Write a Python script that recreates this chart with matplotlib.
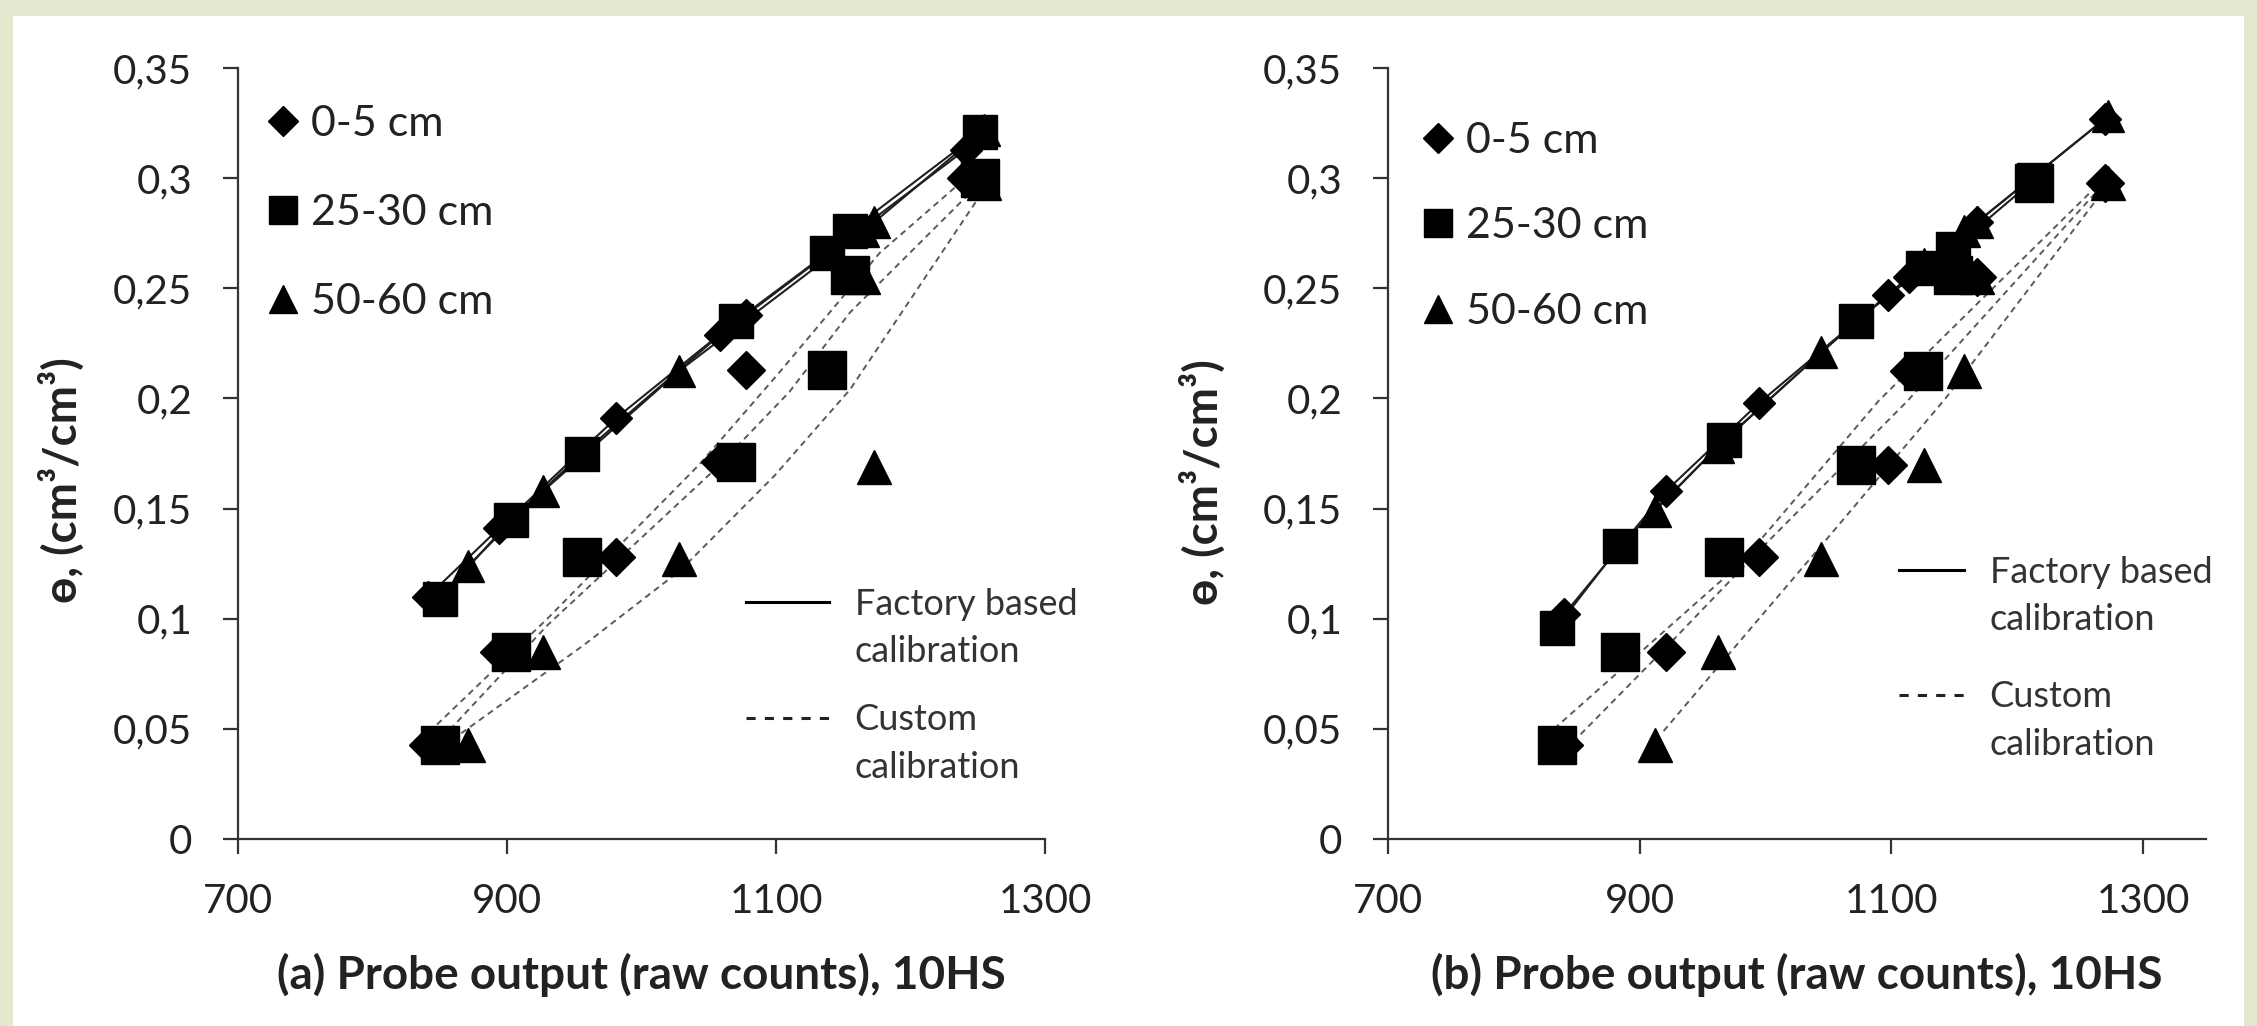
import matplotlib
matplotlib.use("Agg")
import matplotlib.pyplot as plt
from matplotlib.lines import Line2D
from matplotlib.patches import Rectangle

plt.rcParams['font.family'] = ['Lato', 'DejaVu Sans']

# ---------------- text / categories ----------------
depth_labels = ["0-5 cm", "25-30 cm", "50-60 cm"]
depth_markers = ["D", "s", "^"]
x_ticks = [700, 900, 1100, 1300]
y_ticks = [0, 0.05, 0.1, 0.15, 0.2, 0.25, 0.3, 0.35]
y_tick_labels = ["0", "0,05", "0,1", "0,15", "0,2", "0,25", "0,3", "0,35"]
x_labels = ["(a) Probe output (raw counts), 10HS", "(b) Probe output (raw counts), 10HS"]
y_label = "ɵ, (cm³/cm³)"

# ---------------- panel (a) ----------------
a_raw_05 = [841, 894, 981, 1058, 1078, 1241]
a_fac_05 = [0.110, 0.141, 0.191, 0.229, 0.238, 0.313]
a_ref_05 = [0.0425, 0.085, 0.128, 0.171, 0.213, 0.300]
a_fitx_05 = [848, 930, 1043, 1100, 1177, 1241]
a_fity_05 = [0.052, 0.100, 0.170, 0.210, 0.266, 0.300]

a_raw_2530 = [850, 903, 956, 1070, 1138, 1155, 1252]
a_fac_2530 = [0.109, 0.145, 0.175, 0.235, 0.266, 0.276, 0.321]
a_ref_2530 = [0.0425, 0.085, 0.128, 0.171, 0.213, 0.256, 0.300]
a_fitx_2530 = [852, 930, 1055, 1110, 1155, 1252]
a_fity_2530 = [0.046, 0.097, 0.168, 0.203, 0.239, 0.298]

a_raw_5060 = [871, 927, 1028, 1165, 1173, 1255]
a_fac_5060 = [0.124, 0.158, 0.2125, 0.276, 0.280, 0.322]
a_ref_5060 = [0.0425, 0.085, 0.127, 0.255, 0.169, 0.298]
a_fitx_5060 = [866, 957, 1029, 1099, 1155, 1256]
a_fity_5060 = [0.048, 0.088, 0.122, 0.165, 0.204, 0.296]

# ---------------- panel (b) ----------------
b_raw_05 = [840, 921, 995, 1097, 1114, 1168, 1270]
b_fac_05 = [0.102, 0.158, 0.198, 0.247, 0.255, 0.280, 0.327]
b_ref_05 = [0.0425, 0.085, 0.128, 0.170, 0.2125, 0.255, 0.298]
b_fitx_05 = [847, 921, 995, 1113, 1268]
b_fity_05 = [0.044, 0.087, 0.131, 0.199, 0.297]

b_raw_2530 = [834, 884, 967, 1072, 1125, 1149, 1213]
b_fac_2530 = [0.096, 0.133, 0.181, 0.235, 0.259, 0.268, 0.299]
b_ref_2530 = [0.0425, 0.085, 0.128, 0.170, 0.2125, 0.256, 0.298]
b_fitx_2530 = [832, 980, 1090, 1266]
b_fity_2530 = [0.050, 0.125, 0.199, 0.298]

b_raw_5060 = [912, 962, 1044, 1126, 1158, 1168, 1272]
b_fac_5060 = [0.149, 0.178, 0.221, 0.261, 0.276, 0.280, 0.328]
b_ref_5060 = [0.0425, 0.085, 0.127, 0.170, 0.2125, 0.255, 0.298]
b_fitx_5060 = [919, 962, 1044, 1143, 1272]
b_fity_5060 = [0.049, 0.078, 0.133, 0.200, 0.297]

panels = [
    dict(xlim=(700, 1300),
         series=[(a_raw_05, a_fac_05, a_ref_05, a_fitx_05, a_fity_05),
                 (a_raw_2530, a_fac_2530, a_ref_2530, a_fitx_2530, a_fity_2530),
                 (a_raw_5060, a_fac_5060, a_ref_5060, a_fitx_5060, a_fity_5060)]),
    dict(xlim=(700, 1350),
         series=[(b_raw_05, b_fac_05, b_ref_05, b_fitx_05, b_fity_05),
                 (b_raw_2530, b_fac_2530, b_ref_2530, b_fitx_2530, b_fity_2530),
                 (b_raw_5060, b_fac_5060, b_ref_5060, b_fitx_5060, b_fity_5060)]),
]

W, H = 2257, 1026
fig = plt.figure(figsize=(W / 100, H / 100), dpi=100)
fig.patch.set_facecolor('#E4E8CE')
fig.add_artist(Rectangle((13 / W, 0), (2244 - 13) / W, 1010 / H,
                         transform=fig.transFigure, facecolor='white',
                         edgecolor='none', zorder=0))

axes_rects = [
    [238 / W, (H - 839) / H, (1045 - 238) / W, (839 - 68) / H],
    [1388 / W, (H - 839) / H, (2206 - 1388) / W, (839 - 68) / H],
]

ms_fac = {"D": 16, "s": 24, "^": 23}
ms_ref = {"D": 19, "s": 27, "^": 24}
ms_leg = {"D": 15, "s": 20, "^": 20}
spine_col = '#333333'
dash_col = '#5a5a5a'

leg1_anchor = [(0.035, 0.952), (0.040, 0.930)]
leg1_spacing = [1.18, 1.1]
leg_fac_anchor = [(0.630, 0.326), (0.625, 0.367)]
leg_cus_anchor = [(0.630, 0.176), (0.625, 0.206)]
hlen2 = [2.3, 1.8]

for pi, (p, rect) in enumerate(zip(panels, axes_rects)):
    ax = fig.add_axes(rect)
    ax.set_facecolor('none')
    for i, (raw, fac, ref, fx, fy) in enumerate(p["series"]):
        m = depth_markers[i]
        order = sorted(range(len(raw)), key=lambda k: raw[k])
        rs = [raw[k] for k in order]
        fs = [fac[k] for k in order]
        ax.plot(rs, fs, '-', color='#1f1f1f', lw=1.5, zorder=2)
        ax.plot(fx, fy, color=dash_col, lw=1.4, dashes=(3.2, 2.4), zorder=2)
        ax.plot(raw, fac, ls='none', marker=m, ms=ms_fac[m], color='black',
                mec='black', zorder=3)
        ax.plot(raw, ref, ls='none', marker=m, ms=ms_ref[m], color='black',
                mec='black', zorder=3)

    ax.set_xlim(*p["xlim"])
    ax.set_ylim(0, 0.35)
    ax.set_xticks(x_ticks)
    ax.set_xticklabels([str(v) for v in x_ticks])
    ax.set_yticks(y_ticks)
    ax.set_yticklabels(y_tick_labels)
    for s in ['top', 'right']:
        ax.spines[s].set_visible(False)
    for s in ['left', 'bottom']:
        ax.spines[s].set_color(spine_col)
        ax.spines[s].set_linewidth(1.6)
    ax.tick_params(axis='both', direction='out', length=11, width=1.6,
                   color=spine_col, labelsize=29, labelcolor='#222222')
    ax.tick_params(axis='y', pad=22)
    ax.tick_params(axis='x', pad=21)

    # depth legend
    handles = [Line2D([], [], ls='none', marker=m, ms=ms_leg[m], color='black')
               for m in depth_markers]
    leg1 = ax.legend(handles, depth_labels, loc='upper left',
                     bbox_to_anchor=leg1_anchor[pi], frameon=False,
                     borderpad=0, borderaxespad=0, handlelength=0.8,
                     handletextpad=0.25, labelspacing=leg1_spacing[pi],
                     fontsize=31, labelcolor='#222222')
    ax.add_artist(leg1)

    # calibration-type legends
    blank = Line2D([], [], color='none')
    hf = Line2D([], [], color='black', lw=2.2)
    leg2 = ax.legend([hf, blank], ["Factory based", "calibration"],
                     loc='upper left', bbox_to_anchor=leg_fac_anchor[pi],
                     frameon=False, borderpad=0, borderaxespad=0,
                     handlelength=hlen2[pi], handletextpad=0.7,
                     labelspacing=0.4, fontsize=26, labelcolor='#333333')
    ax.add_artist(leg2)
    hc = Line2D([], [], color='#222222', lw=2.2, dashes=(3, 3))
    ax.legend([hc, blank], ["Custom", "calibration"],
              loc='upper left', bbox_to_anchor=leg_cus_anchor[pi],
              frameon=False, borderpad=0, borderaxespad=0,
              handlelength=hlen2[pi], handletextpad=0.7,
              labelspacing=0.4, fontsize=26, labelcolor='#333333')

# axis titles
fig.text(641 / W, 1 - 975 / H, x_labels[0], ha='center', va='center',
         fontsize=33, fontweight='bold', color='#222222')
fig.text(1797 / W, 1 - 975 / H, x_labels[1], ha='center', va='center',
         fontsize=33, fontweight='bold', color='#222222')
fig.text(62 / W, 1 - 480 / H, y_label, ha='center', va='center', rotation=90,
         fontsize=33, fontweight='bold', color='#222222')
fig.text(1203 / W, 1 - 482 / H, y_label, ha='center', va='center', rotation=90,
         fontsize=33, fontweight='bold', color='#222222')

fig.savefig('out.png', dpi=100, facecolor=fig.get_facecolor())
